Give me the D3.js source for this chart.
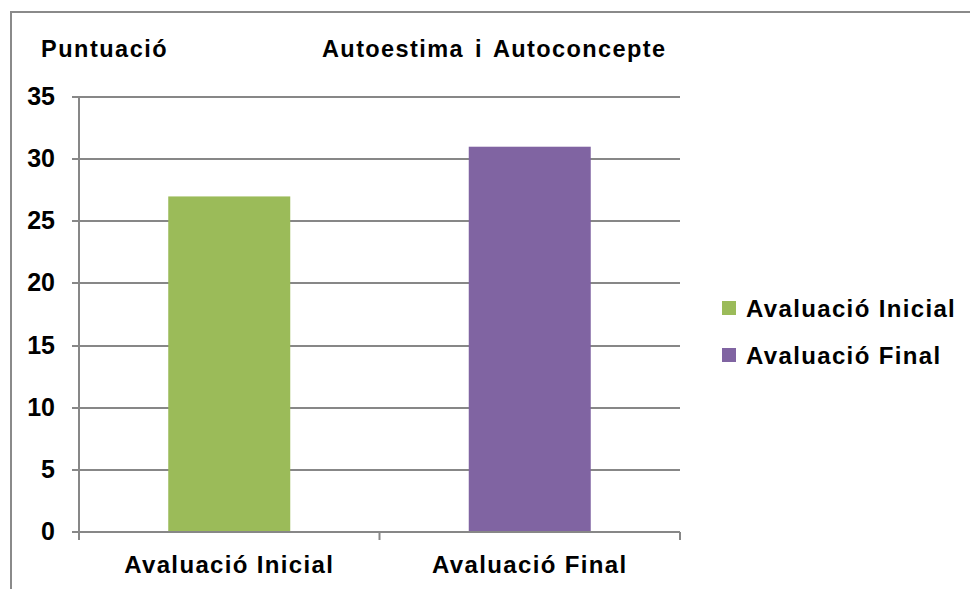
<!DOCTYPE html>
<html>
<head>
<meta charset="utf-8">
<script src="https://cdn.jsdelivr.net/npm/d3@7"></script>
<style>
  body { margin: 0; background: #fff; }
  text { font-family: "Liberation Sans", Arial, sans-serif; font-weight: bold; fill: #000; }
</style>
</head>
<body>
<script>
// chart data
var categories = ["Avaluació Inicial", "Avaluació Final"];
var values = [27, 31];
var colors = ["#9bbb59", "#8064a2"];
var yTicks = [0, 5, 10, 15, 20, 25, 30, 35];
var title = "Autoestima i Autoconcepte";
var yTitle = "Puntuació";

var width = 970, height = 589;
var plot = { left: 79, right: 680, top: 97, bottom: 532 };
var gridColor = "#878787";

var svg = d3.select("body").append("svg")
    .attr("width", width)
    .attr("height", height);

// outer frame (runs off the right/bottom edge like the screenshot)
svg.append("rect")
    .attr("x", 11).attr("y", 12)
    .attr("width", 1000).attr("height", 1000)
    .attr("fill", "none")
    .attr("stroke", "#8a8a8a")
    .attr("stroke-width", 2);

var x = d3.scaleBand()
    .domain(categories)
    .range([plot.left, plot.right])
    .paddingInner(0.594)
    .paddingOuter(0.297);

var xTicks = d3.scaleBand()
    .domain(categories)
    .range([plot.left, plot.right]);

var y = d3.scaleLinear()
    .domain([0, 35])
    .range([plot.bottom, plot.top]);

// gridlines + y ticks
svg.append("g").selectAll("line")
    .data(yTicks)
    .enter().append("line")
    .attr("x1", plot.left - 7)
    .attr("x2", plot.right)
    .attr("y1", function(d) { return Math.round(y(d)); })
    .attr("y2", function(d) { return Math.round(y(d)); })
    .attr("stroke", gridColor)
    .attr("stroke-width", 2);

svg.append("g").selectAll("text")
    .data(yTicks)
    .enter().append("text")
    .attr("x", 55)
    .attr("y", function(d) { return y(d) + 8; })
    .attr("text-anchor", "end")
    .style("font-size", "25px")
    .text(function(d) { return d; });

// bars
svg.append("g").selectAll("rect")
    .data(values)
    .enter().append("rect")
    .attr("x", function(d, i) { return x(categories[i]); })
    .attr("width", x.bandwidth())
    .attr("y", function(d) { return y(d); })
    .attr("height", function(d) { return y(0) - y(d); })
    .attr("fill", function(d, i) { return colors[i]; });

// y axis line
svg.append("line")
    .attr("x1", plot.left).attr("x2", plot.left)
    .attr("y1", plot.top).attr("y2", plot.bottom + 8)
    .attr("stroke", gridColor).attr("stroke-width", 2);

// x axis line and ticks
svg.append("line")
    .attr("x1", plot.left - 7).attr("x2", plot.right)
    .attr("y1", plot.bottom).attr("y2", plot.bottom)
    .attr("stroke", gridColor).attr("stroke-width", 2);

var tickXs = categories.map(function(c) { return xTicks(c); }).concat([plot.right]);
svg.append("g").selectAll("line")
    .data(tickXs)
    .enter().append("line")
    .attr("x1", function(d) { return d; })
    .attr("x2", function(d) { return d; })
    .attr("y1", plot.bottom)
    .attr("y2", plot.bottom + 8)
    .attr("stroke", gridColor).attr("stroke-width", 2);

// category labels
svg.append("g").selectAll("text")
    .data(categories)
    .enter().append("text")
    .attr("x", function(d) { return xTicks(d) + xTicks.bandwidth() / 2; })
    .attr("y", 573)
    .attr("text-anchor", "middle")
    .style("font-size", "24px")
    .style("letter-spacing", "1.35px")
    .text(function(d) { return d; });

// titles
svg.append("text")
    .attr("x", 41).attr("y", 57)
    .style("font-size", "23.5px")
    .style("letter-spacing", "1.5px")
    .text(yTitle);

svg.append("text")
    .attr("x", 322).attr("y", 57)
    .style("font-size", "23.5px")
    .style("letter-spacing", "1.4px")
    .style("word-spacing", "3px")
    .text(title);

// legend
var legend = svg.append("g").selectAll("g")
    .data(categories)
    .enter().append("g")
    .attr("transform", function(d, i) { return translate(722, 301 + i * 47); });

legend.append("rect")
    .attr("width", 14).attr("height", 14)
    .attr("fill", function(d, i) { return colors[i]; });

legend.append("text")
    .attr("x", 24).attr("y", 16)
    .style("font-size", "24px")
    .style("letter-spacing", "1.35px")
    .text(function(d) { return d; });

function translate(a, b) {
    return "translate(" + a + "," + b + ")";
}
</script>
</body>
</html>
